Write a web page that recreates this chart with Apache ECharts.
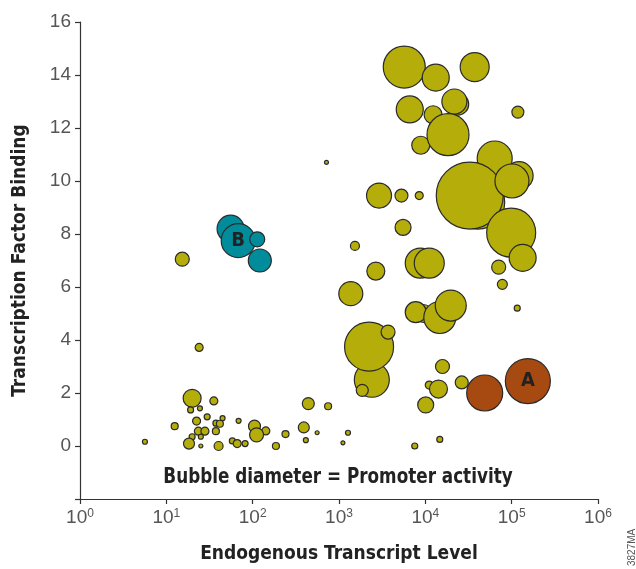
<!DOCTYPE html>
<html>
<head>
<meta charset="utf-8">
<script src="https://cdn.jsdelivr.net/npm/echarts@6/dist/echarts.min.js"></script>
<style>
html,body{margin:0;padding:0;background:#fff;}
#chart{width:636px;height:569px;}
</style>
</head>
<body>
<div id="chart"></div>
<script>
// ---- Data ----
// Endogenous transcript level (x), transcription factor binding (y), promoter activity (bubble diameter)
const otherX = [5700,13200,37300,6600,12300,23700,21700,8850,18300,118000,63600,40400,32700,122000,100800,98700,134000,70700,78000,116000,716,2910,5290,8500,5520,1530,2670,1370,8730,11100,9460,7740,14700,19700,2400,2230,3700,1860,15800,26400,11100,14200,10100,14700,7540,441,748,391,240,558,1270,413,1110,15.3,24.0,19.9,35.5,19.1,24.5,29.7,44.8,12.5,22.4,37.5,41.7,68.7,105,142,111,23.5,28.0,37.5,19.9,25.1,18.3,25.1,40.3,58.2,66.2,81.7,186,5.65];
const otherY = [14.3,13.9,14.3,12.7,12.5,12.9,13.0,11.35,11.75,12.6,10.85,9.2,9.45,10.2,10.0,8.05,7.1,6.75,6.1,5.2,10.7,9.45,9.45,9.45,8.25,7.55,6.6,5.75,6.9,6.9,5.0,5.05,4.85,5.3,2.5,3.75,4.3,2.1,3.0,2.4,2.3,2.15,1.55,0.25,0.0,1.6,1.5,0.7,0.45,0.5,0.5,0.22,0.12,7.05,3.72,1.8,1.7,1.36,1.42,1.1,1.05,0.75,0.94,0.86,0.84,0.95,0.75,0.57,0.42,0.56,0.56,0.56,0.35,0.35,0.09,0.0,0.0,0.19,0.09,0.09,0.0,0.16];
const otherActivity = [42,27,29,27,18,22,25,18,42,12,35,54,67,28,34,49,27,14,10,6,4,25,13,8,16,9,18,24,30,30,18,21,32,31,35,49,14,12,14,13,8,18,16,6,6,12,7,11,7,4,5,5,4,14,8,18,8,6,5,6,5,7,8,6,7,5,12,8,14,8,8,7,6,5,11,4,9,6,8,6,7,5];

const groupBX = [55.5, 68, 113, 121];
const groupBY = [8.2, 7.75, 7.8, 7.0];
const groupBActivity = [27, 34, 15, 23];
const groupBLabels = ['', 'B', '', ''];

const groupAX = [48700, 154000];
const groupAY = [2.0, 2.45];
const groupAActivity = [36, 45];
const groupALabels = ['', 'A'];

const yTicks = [0, 2, 4, 6, 8, 10, 12, 14, 16];

const condensed = "'Liberation Sans Narrow','DejaVu Sans Condensed','Arial Narrow',sans-serif";
const labelFont = "'Liberation Sans','Helvetica',sans-serif";

function build(xs, ys, ps, labels) {
  return xs.map((x, i) => {
    const item = { value: [x, ys[i], ps[i]] };
    if (labels && labels[i]) {
      item.label = {
        show: true, position: 'inside', formatter: labels[i],
        fontFamily: condensed, fontWeight: 'bold', fontSize: 20, color: '#222'
      };
    }
    return item;
  });
}

const bubbleStyle = (color) => ({ color: color, borderColor: '#2a2a2a', borderWidth: 1.2, opacity: 1 });

const chart = echarts.init(document.getElementById('chart'), null, { renderer: 'canvas' });
chart.setOption({
  animation: false,
  backgroundColor: '#ffffff',
  grid: { left: 80, right: 38, top: 22, bottom: 67, containLabel: false },
  xAxis: {
    type: 'log', logBase: 10, min: 1, max: 1000000,
    name: 'Endogenous Transcript Level', nameLocation: 'middle', nameGap: 46,
    nameTextStyle: { fontFamily: condensed, fontWeight: 'bold', fontSize: 19, color: '#222' },
    axisLine: { onZero: false, lineStyle: { color: '#333', width: 1.2 } },
    axisTick: { show: true, length: 5, inside: false, lineStyle: { color: '#333', width: 1.2 } },
    minorTick: { show: false },
    splitLine: { show: false },
    axisLabel: {
      margin: 9,
      formatter: (v) => '{b|10}{s|' + Math.round(Math.log10(v)) + '}',
      rich: {
        b: { fontFamily: labelFont, fontSize: 19, color: '#555' },
        s: { fontFamily: labelFont, fontSize: 12, color: '#555', verticalAlign: 'top', padding: [0, 0, 8, 0] }
      }
    }
  },
  yAxis: {
    type: 'value', min: -2, max: 16, interval: 2,
    name: 'Transcription Factor Binding', nameLocation: 'middle', nameGap: 50, nameRotate: 90,
    nameTextStyle: { fontFamily: condensed, fontWeight: 'bold', fontSize: 19, color: '#222' },
    axisLine: { show: true, onZero: false, lineStyle: { color: '#333', width: 1.2 } },
    axisTick: { show: true, length: 5, lineStyle: { color: '#333', width: 1.2 } },
    splitLine: { show: false },
    axisLabel: {
      margin: 9, fontFamily: labelFont, fontSize: 19, color: '#555',
      formatter: (v) => (yTicks.indexOf(v) >= 0 ? String(v) : '')
    }
  },
  series: [
    {
      type: 'scatter', name: 'Other', data: build(otherX, otherY, otherActivity),
      symbolSize: (v) => v[2], itemStyle: bubbleStyle('#b5ae0a'), emphasis: { disabled: true }
    },
    {
      type: 'scatter', name: 'B', data: build(groupBX, groupBY, groupBActivity, groupBLabels),
      symbolSize: (v) => v[2], itemStyle: bubbleStyle('#008c9b'), emphasis: { disabled: true }
    },
    {
      type: 'scatter', name: 'A', data: build(groupAX, groupAY, groupAActivity, groupALabels),
      symbolSize: (v) => v[2], itemStyle: bubbleStyle('#a64a12'), emphasis: { disabled: true }
    }
  ],
  graphic: [
    {
      type: 'text', x: 338, y: 477, scaleX: 0.85,
      style: { text: 'Bubble diameter = Promoter activity', fontFamily: condensed, fontWeight: 'bold', fontSize: 22, fill: '#222', align: 'center', verticalAlign: 'middle' },
      z: 10
    },
    {
      type: 'text', x: 627, y: 566, rotation: Math.PI / 2,
      style: { text: '3827MA', fontFamily: labelFont, fontSize: 10, fill: '#555' }
    }
  ]
});
</script>
</body>
</html>
